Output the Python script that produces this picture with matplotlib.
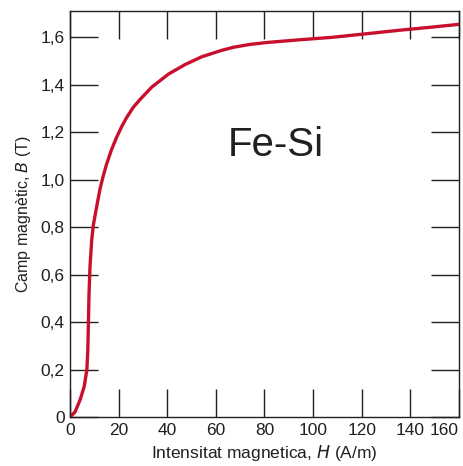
import matplotlib.pyplot as plt
import numpy as np

plt.rcParams['font.family'] = ['Liberation Sans', 'DejaVu Sans']

# Fe-Si magnetization curve
H = [0, 2.06, 4.1, 5.8, 6.9, 7.3, 7.55, 7.8, 8.2, 8.9, 9.6, 10.3, 11.2, 12.3,
     13.5, 15.0, 17.0, 19.2, 21.3, 23.3, 26.0, 28.8, 33.6, 40.5, 47.3, 54.2,
     62.4, 67.2, 74, 80.9, 95, 108, 122, 135.8, 148, 160.5]
B = [0, 0.022, 0.072, 0.128, 0.198, 0.282, 0.395, 0.52, 0.633, 0.745, 0.81,
     0.85, 0.9, 0.96, 1.01, 1.065, 1.125, 1.18, 1.225, 1.262, 1.305, 1.338,
     1.39, 1.445, 1.485, 1.518, 1.545, 1.558, 1.57, 1.578, 1.59, 1.60, 1.615,
     1.63, 1.642, 1.655]

xticks = [0, 20, 40, 60, 80, 100, 120, 140, 160]
yticks = [0, 0.2, 0.4, 0.6, 0.8, 1.0, 1.2, 1.4, 1.6]
ylabels = ['0', '0,2', '0,4', '0,6', '0,8', '1,0', '1,2', '1,4', '1,6']

fig = plt.figure(figsize=(4.64, 4.66), dpi=100)
ax = fig.add_axes([0.151, 0.105, 0.838, 0.871])

ax.plot(H, B, color='#c8102e', lw=2.4, solid_capstyle='round', solid_joinstyle='round')

ax.set_xlim(0, 160)
ax.set_ylim(0, 1.71)
ax.set_xticks(xticks)
ax.set_xticklabels([str(t) for t in xticks])
ax.set_yticks(yticks)
ax.set_yticklabels(ylabels)
ax.tick_params(direction='in', length=20, width=1, labelsize=12.5, colors='#231f20',
               top=True, right=True, pad=4)
ax.get_xticklabels()[-1].set_horizontalalignment('right')
for s in ax.spines.values():
    s.set_color('#231f20')
    s.set_linewidth(1)

ax.set_xlabel('Intensitat magnetica, $\\mathit{H}$ (A/m)', fontsize=12.5, color='#231f20', labelpad=4)
ax.set_ylabel('Camp magnètic, $\\mathit{B}$ (T)', fontsize=11.5, color='#231f20', labelpad=5)
ax.text(84.8, 1.145, 'Fe-Si', fontsize=29, ha='center', va='center', color='#231f20')

plt.savefig('out.png', dpi=100)
